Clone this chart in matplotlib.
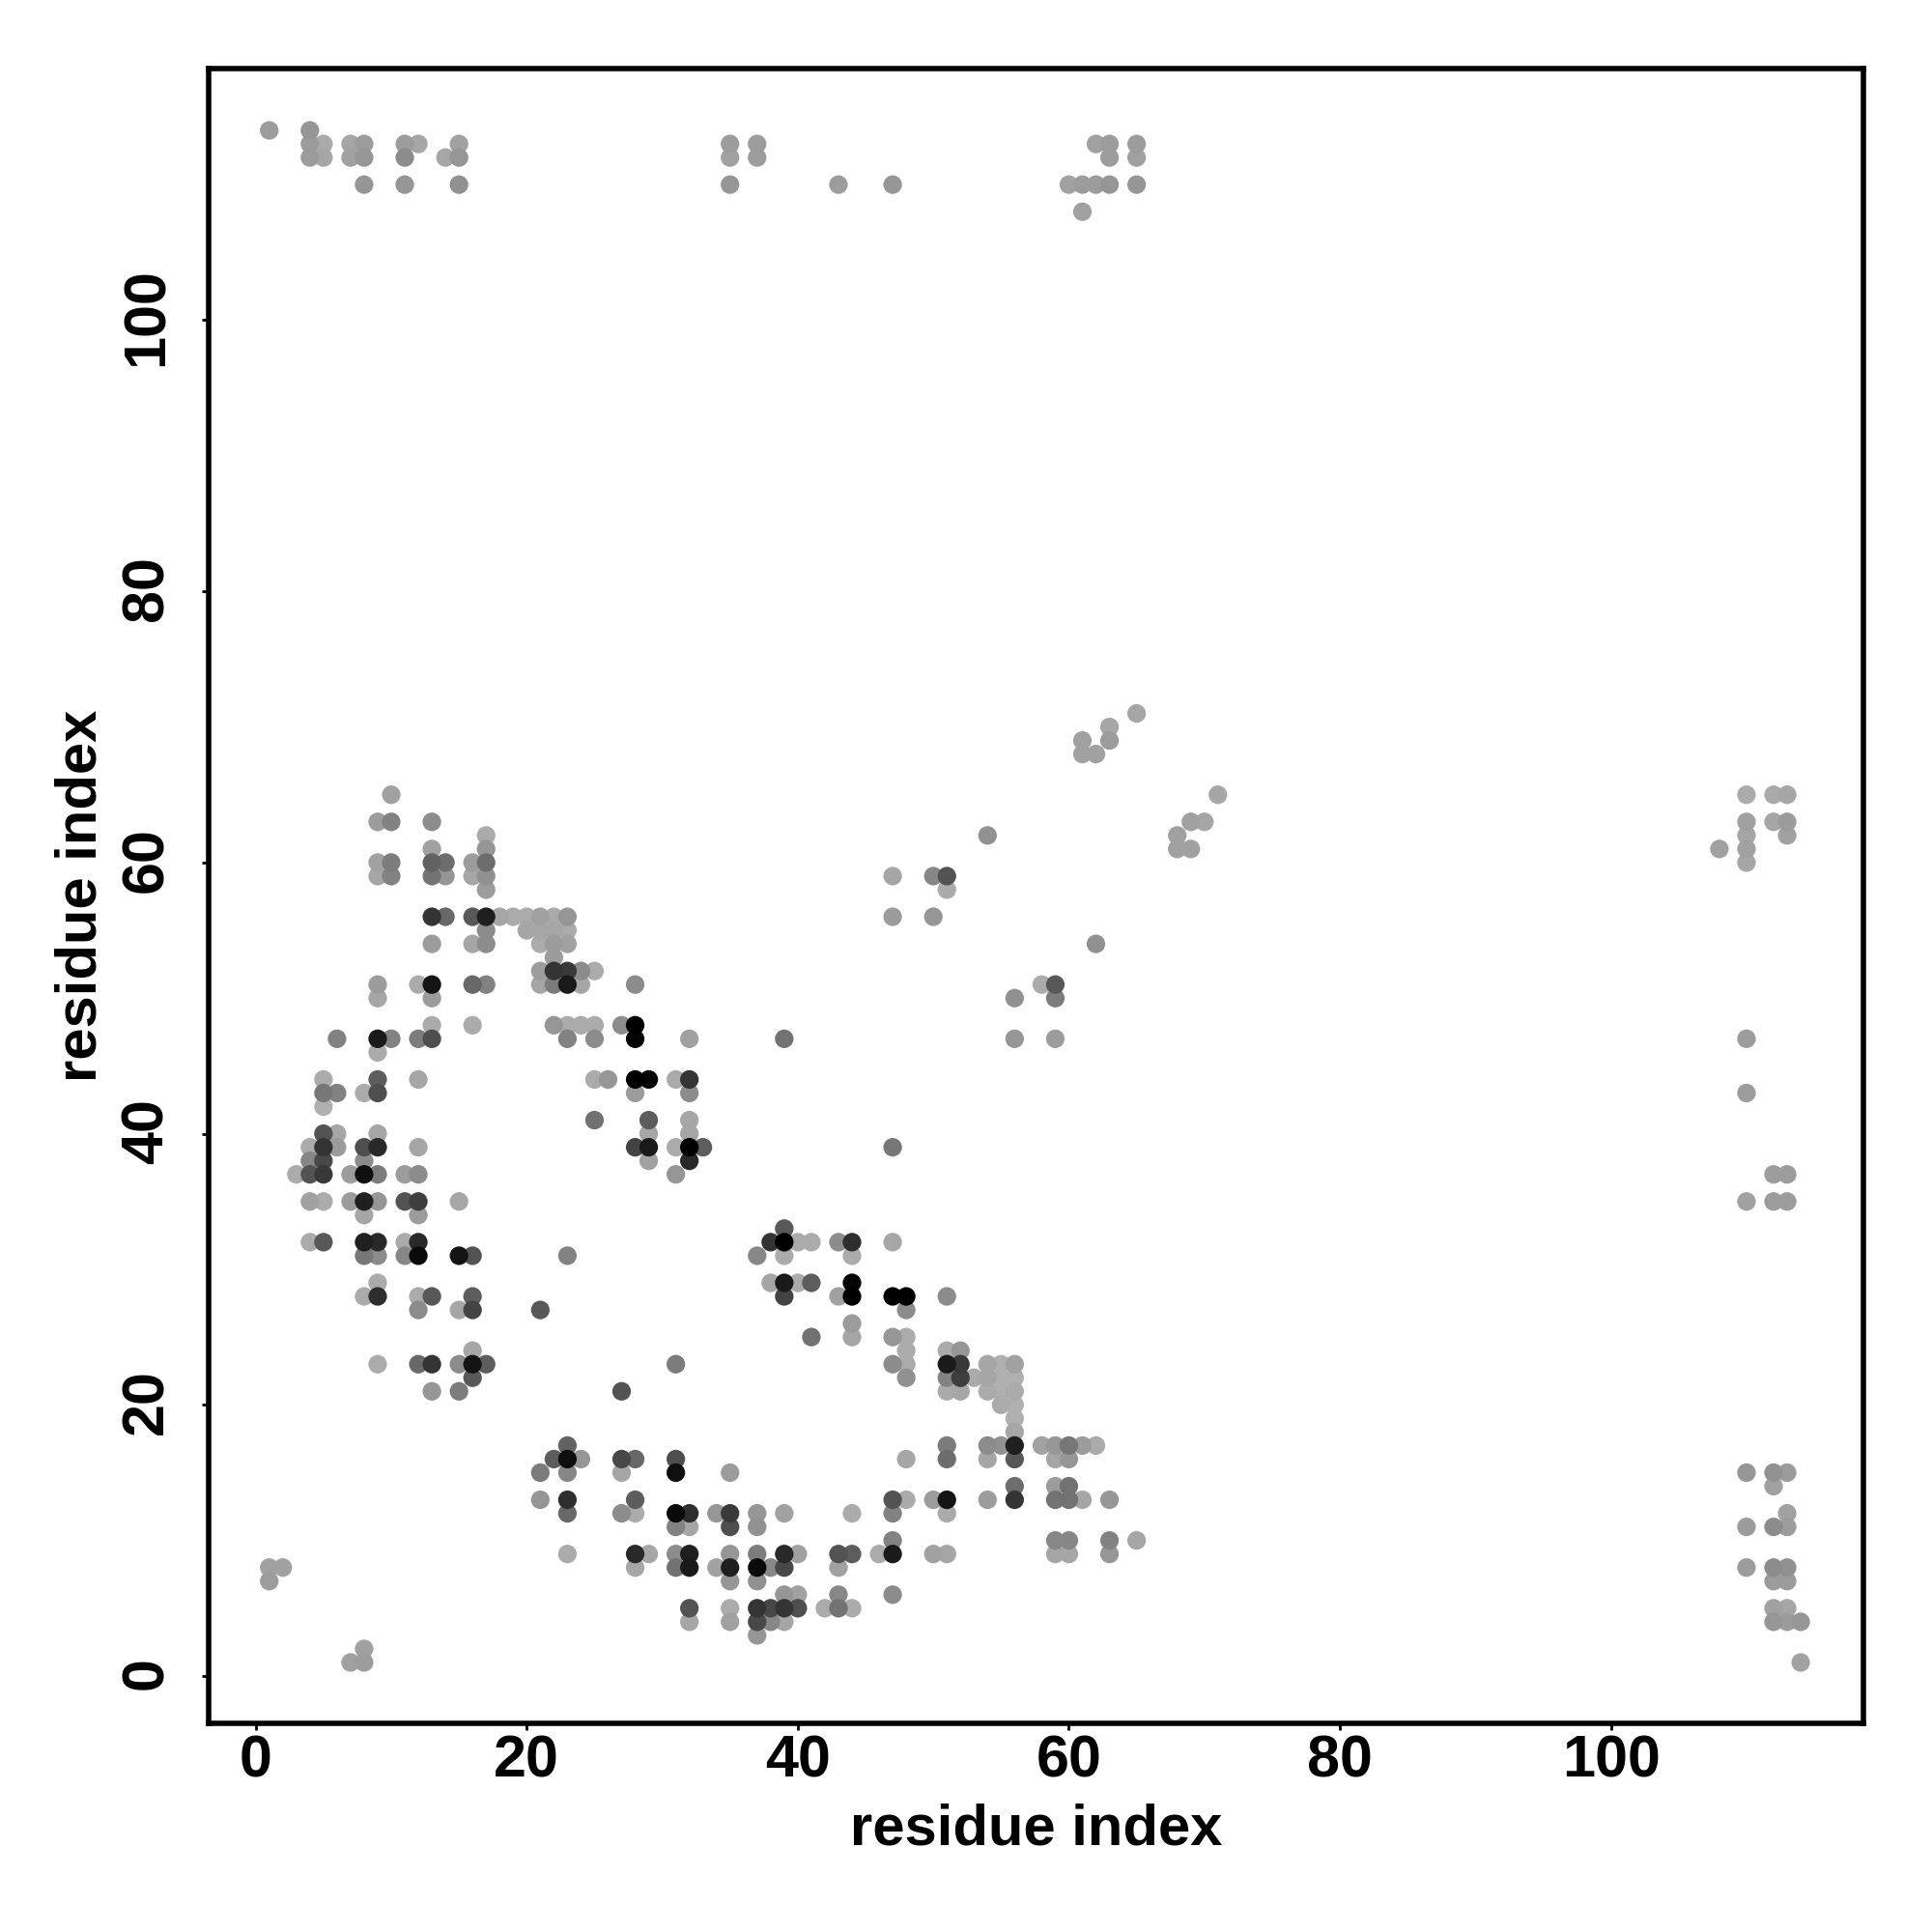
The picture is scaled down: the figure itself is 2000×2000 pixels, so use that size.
import numpy as np
import matplotlib
matplotlib.use("Agg")
import matplotlib.pyplot as plt
from matplotlib.transforms import ScaledTranslation

plt.rcParams['font.family'] = ['Liberation Sans', 'DejaVu Sans']

contact_rows = [114, 113, 112, 110, 108, 71, 70, 69, 68, 65, 63, 62, 61, 60, 59, 58, 56, 55, 54, 53, 52, 51, 50, 48,
                47, 46, 44, 43, 42, 41, 40, 39, 38, 37, 35, 34, 33, 32, 31, 29, 28, 27, 26, 25, 24, 23, 22, 21, 20, 19,
                18, 17, 16, 15, 14, 13, 12, 11, 10, 9, 8, 7, 6, 5, 4, 3, 2, 1]

contact_x = [
    [1, 4],
    [4, 5, 7, 8, 11, 12, 15, 35, 37, 62, 63, 65],
    [4, 5, 7, 8, 11, 14, 15, 35, 37, 63, 65],
    [8, 11, 15, 35, 43, 47, 60, 61, 62, 63, 65],
    [61],
    [65],
    [63],
    [61, 63],
    [61, 62],
    [10, 71, 110, 112, 113],
    [9, 10, 13, 69, 70, 110, 112, 113],
    [17, 54, 68, 110, 113],
    [13, 17, 68, 69, 108, 110],
    [9, 10, 13, 14, 16, 17, 110],
    [9, 10, 13, 14, 16, 17, 47, 50, 51],
    [17, 51],
    [13, 14, 16, 17, 18, 19, 20, 21, 22, 23, 47, 50],
    [17, 20, 21, 22, 23],
    [13, 16, 17, 21, 22, 23, 62],
    [22],
    [21, 22, 23, 24, 25],
    [9, 12, 13, 16, 17, 21, 22, 23, 24, 28, 58, 59],
    [9, 13, 56, 59],
    [13, 16, 22, 23, 24, 25, 27, 28],
    [6, 9, 10, 12, 13, 23, 25, 28, 32, 39, 56, 59, 110],
    [9],
    [5, 9, 12, 25, 26, 28, 29, 31, 32],
    [5, 6, 8, 9, 28, 32, 110],
    [5],
    [25, 29, 32],
    [5, 6, 9, 29, 32],
    [4, 5, 6, 8, 9, 12, 28, 29, 31, 32, 33, 47],
    [4, 5, 8, 29, 32],
    [3, 4, 5, 7, 8, 9, 11, 12, 31, 112, 113],
    [4, 5, 7, 8, 9, 11, 12, 15, 110, 112, 113],
    [8, 12],
    [39],
    [4, 5, 8, 9, 11, 12, 38, 39, 40, 41, 43, 44, 47],
    [8, 9, 11, 12, 15, 16, 23, 37, 39, 44],
    [9, 38, 39, 40, 41, 44],
    [8, 9, 12, 13, 16, 39, 43, 44, 47, 48, 51],
    [12, 15, 16, 21, 48],
    [44],
    [41, 44, 47, 48],
    [16, 48, 51, 52],
    [9, 12, 13, 15, 16, 17, 31, 47, 48, 51, 52, 54, 55, 56],
    [16, 48, 51, 52, 53, 54, 55, 56],
    [13, 15, 27, 51, 52, 54, 55, 56],
    [55, 56],
    [56],
    [56],
    [23, 51, 54, 55, 56, 58, 59, 60, 61, 62],
    [22, 23, 24, 27, 28, 31, 48, 51, 54, 56, 59, 60],
    [21, 23, 27, 31, 35, 110, 112, 113],
    [56, 59, 60, 112],
    [21, 23, 28, 47, 48, 50, 51, 54, 56, 59, 60, 61, 63],
    [23, 27, 28, 31, 32, 34, 35, 37, 39, 44, 47, 51, 113],
    [31, 32, 35, 37, 110, 112, 113],
    [47, 59, 60, 63, 65],
    [23, 28, 29, 31, 32, 35, 37, 39, 40, 43, 44, 46, 47, 50, 51, 59, 60, 63],
    [1, 2, 28, 31, 32, 34, 35, 37, 38, 39, 43, 110, 112, 113],
    [1, 35, 37, 112, 113],
    [39, 40, 43, 47],
    [32, 35, 37, 38, 39, 40, 42, 43, 44, 112, 113],
    [32, 35, 37, 38, 39, 112, 113, 114],
    [37],
    [8],
    [7, 8, 114],
]

contact_shade = [
    [150, 145],
    [150, 165, 160, 150, 150, 160, 155, 150, 150, 155, 150, 150],
    [150, 160, 155, 145, 135, 160, 145, 155, 150, 150, 155],
    [145, 145, 140, 145, 150, 145, 155, 150, 150, 145, 145],
    [155],
    [160],
    [160],
    [155, 150],
    [155, 155],
    [155, 160, 165, 165, 160],
    [150, 125, 135, 155, 160, 155, 160, 150],
    [165, 140, 155, 160, 155],
    [155, 145, 155, 155, 155, 155],
    [155, 120, 95, 105, 150, 105, 160],
    [160, 125, 110, 145, 160, 140, 160, 130, 80],
    [150, 165],
    [50, 100, 85, 30, 160, 165, 165, 155, 165, 145, 150, 145],
    [135, 160, 160, 160, 165],
    [150, 160, 135, 165, 150, 155, 140],
    [150],
    [150, 50, 55, 135, 165],
    [150, 165, 20, 100, 125, 160, 120, 25, 160, 135, 165, 85],
    [160, 150, 140, 120],
    [165, 165, 145, 165, 165, 165, 135, 0],
    [125, 25, 125, 120, 75, 125, 135, 5, 155, 110, 145, 150, 150],
    [165],
    [165, 90, 160, 165, 145, 0, 5, 165, 50],
    [115, 125, 165, 75, 150, 135, 150],
    [170],
    [110, 90, 160],
    [80, 160, 160, 160, 160],
    [165, 50, 150, 75, 40, 160, 65, 25, 165, 0, 90, 115],
    [130, 70, 135, 155, 40],
    [165, 80, 55, 150, 15, 120, 150, 135, 145, 150, 150],
    [155, 165, 150, 30, 145, 80, 60, 160, 155, 150, 150],
    [160, 150],
    [85],
    [165, 85, 30, 40, 165, 40, 50, 0, 165, 165, 135, 45, 160],
    [115, 135, 130, 10, 20, 80, 125, 130, 165, 165],
    [165, 160, 25, 165, 90, 5],
    [165, 45, 165, 85, 90, 65, 155, 0, 0, 0, 135],
    [135, 160, 65, 85, 135],
    [150],
    [110, 160, 145, 165],
    [160, 165, 165, 145],
    [165, 100, 50, 135, 20, 90, 120, 135, 165, 25, 55, 160, 170, 155],
    [85, 140, 125, 60, 165, 160, 170, 170],
    [145, 120, 80, 165, 160, 165, 170, 165],
    [165, 170],
    [170],
    [160],
    [95, 120, 135, 140, 30, 155, 145, 115, 150, 165],
    [90, 15, 145, 70, 100, 75, 160, 105, 160, 85, 160, 145],
    [120, 130, 160, 15, 150, 145, 140, 150],
    [105, 150, 110, 155],
    [145, 45, 90, 80, 165, 150, 20, 150, 50, 110, 110, 160, 145],
    [100, 135, 165, 10, 45, 145, 55, 145, 155, 165, 125, 165, 155],
    [125, 160, 75, 140, 150, 135, 150],
    [125, 130, 130, 125, 160],
    [165, 40, 160, 135, 30, 145, 120, 40, 155, 80, 90, 165, 25, 155, 160, 160, 160, 145],
    [155, 155, 160, 110, 25, 155, 30, 10, 130, 70, 155, 150, 135, 140],
    [150, 145, 140, 150, 150],
    [145, 155, 130, 135],
    [80, 165, 50, 70, 50, 75, 165, 110, 165, 155, 160],
    [160, 155, 70, 130, 160, 145, 150, 145],
    [145],
    [155],
    [155, 150, 155],
]

x_ticks = [0, 20, 40, 60, 80, 100]
y_ticks = [0, 20, 40, 60, 80, 100]
axis_label = "residue index"

for row_x, row_g in zip(contact_x, contact_shade, strict=True):
    assert len(row_x) == len(row_g), row_x

xs = np.concatenate(contact_x)
gs = np.concatenate(contact_shade)
ys = np.repeat(contact_rows, [len(r) for r in contact_x])
order = np.argsort(-gs, kind="stable")

fig = plt.figure(figsize=(10, 10), dpi=200)
ax = fig.add_axes([216.3 / 2000, 1 - 1784 / 2000, (1928.6 - 216.3) / 2000, (1784 - 71.4) / 2000])
ax.scatter(xs[order], ys[order], c=gs[order], cmap="gray", vmin=0, vmax=246,
           s=48, linewidths=0, zorder=3)
ax.set_xlim(-3.45, 118.6)
ax.set_ylim(-3.49, 118.53)
ax.set_xticks(x_ticks)
ax.set_yticks(y_ticks)
ax.tick_params(axis="x", length=2.5, width=1.0, color="black", pad=1.5)
ax.tick_params(axis="y", length=2.5, width=1.0, color="black", pad=14.8)
for t in ax.get_xticklabels():
    t.set_fontsize(22)
    t.set_fontweight("bold")
nudge = ScaledTranslation(0, 3 / 200, fig.dpi_scale_trans)
for t in ax.get_yticklabels():
    t.set_fontsize(22)
    t.set_fontweight("bold")
    t.set_rotation(90)
    t.set_rotation_mode("anchor")
    t.set_ha("center")
    t.set_va("baseline")
    t.set_transform(t.get_transform() + nudge)
for s in ax.spines.values():
    s.set_linewidth(2.0)
ax.set_xlabel(axis_label, fontsize=21.5, fontweight="bold", va="baseline")
ax.set_ylabel(axis_label, fontsize=21.5, fontweight="bold", va="baseline", ha="center",
              rotation_mode="anchor")
ax.xaxis.set_label_coords(0.5, -0.0735)
ax.yaxis.set_label_coords(-0.0685, 0.5)
fig.savefig("out.png", dpi=200, facecolor="white")
